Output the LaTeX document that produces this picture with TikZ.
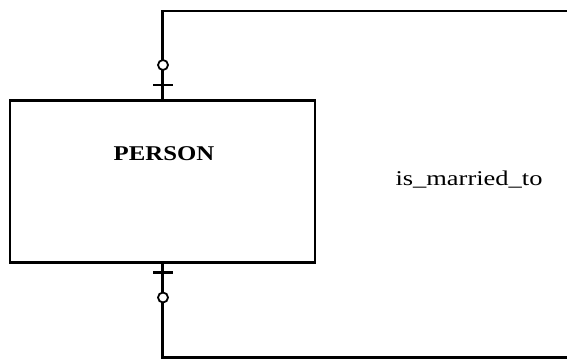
\documentclass[tikz,border=0pt]{standalone}
\usepackage{fontspec}
\setmainfont{Liberation Serif}
\usetikzlibrary{calc}
\tikzset{
  entity/.style={draw, line width=2.2pt, minimum width=305pt, minimum height=162pt, inner sep=0pt},
  conn/.style={line width=2.2pt},
  optcircle/.style={line width=1.8pt, fill=white},
  onebar/.style={line width=2.2pt},
  lbl/.style={inner sep=0pt, anchor=base}
}
\begin{document}
\begin{tikzpicture}[x=1pt,y=-1pt]
\useasboundingbox (0,0) rectangle (567,359);
\node[entity] (person) at (162.5,181.5) {};
\node[lbl, font=\bfseries\fontsize{21}{25}\selectfont] (personlabel) at (164,160) {\scalebox{1.18}[1]{PERSON}};
\node[lbl, font=\fontsize{21}{25}\selectfont] (rel) at (469,185) {\scalebox{1.26}[1]{is\_married\_to}};
\coordinate (tr) at (568,11);
\coordinate (br) at (568,357.5);
\draw[conn] (person.north) |- (tr);
\draw[conn] (person.south) |- (br);
% top marks
\draw[onebar] (153,85) -- (173,85);
\draw[optcircle] (163,65) circle (5);
% bottom marks
\draw[onebar] (153,272.5) -- (173,272.5);
\draw[optcircle] (163,297.5) circle (5);
\end{tikzpicture}
\end{document}
